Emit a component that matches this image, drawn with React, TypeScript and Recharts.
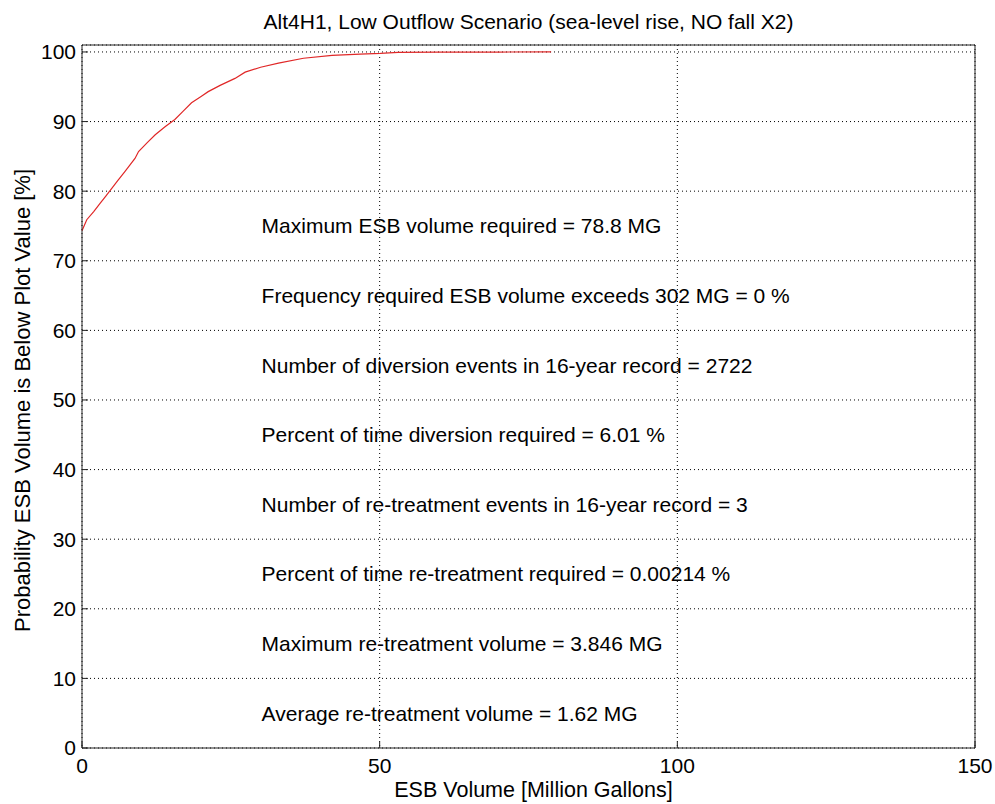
import { LineChart, Line, XAxis, YAxis, CartesianGrid, ReferenceDot, Label } from "recharts";

// ESB volume (MG) vs cumulative probability (%)
const volume = [
  0, 0.8, 2, 3, 4, 5, 6, 7.2, 8.9, 9.5, 11, 12.3, 14, 15.6, 17, 18.4, 20, 21.2,
  23.2, 25.7, 27.4, 30, 33, 37.2, 42, 46.7, 50.1, 53.1, 60, 70, 78.8,
];
const probability = [
  74.3, 75.9, 77.1, 78.2, 79.3, 80.4, 81.5, 82.8, 84.7, 85.7, 87.0, 88.1, 89.3,
  90.3, 91.5, 92.7, 93.6, 94.3, 95.2, 96.2, 97.1, 97.8, 98.4, 99.1, 99.5, 99.7,
  99.8, 99.95, 99.97, 99.99, 100,
];

const xTicks = [0, 50, 100, 150];
const yTicks = [0, 10, 20, 30, 40, 50, 60, 70, 80, 90, 100];

const notes = [
  "Maximum ESB volume required = 78.8 MG",
  "Frequency required ESB volume exceeds 302 MG = 0 %",
  "Number of diversion events in 16-year record = 2722",
  "Percent of time diversion required = 6.01 %",
  "Number of re-treatment events in 16-year record = 3",
  "Percent of time re-treatment required = 0.00214 %",
  "Maximum re-treatment volume = 3.846 MG",
  "Average re-treatment volume = 1.62 MG",
];
const noteY = [75, 65, 55, 45, 35, 25, 15, 5];
const noteX = 30;

const data = volume.map((v, i) => ({ volume: v, probability: probability[i] }));

const FONT = "'Liberation Sans', Arial, sans-serif";
const FS = 21;
const AXIS = "#222";

function Title(props: any) {
  const { x, y, width } = props.viewBox;
  return (
    <text
      x={x + width / 2}
      y={y - 23}
      textAnchor="middle"
      dominantBaseline="central"
      fontFamily={FONT}
      fontSize={FS}
      fill="#000"
    >
      Alt4H1, Low Outflow Scenario (sea-level rise, NO fall X2)
    </text>
  );
}

function YTitle(props: any) {
  const { x, y, height } = props.viewBox;
  const cx = x;
  const cy = y + height / 2 + 4;
  return (
    <text
      x={cx}
      y={cy}
      transform={`rotate(-90 ${cx} ${cy})`}
      textAnchor="middle"
      dominantBaseline="central"
      fontFamily={FONT}
      fontSize={22}
      fill="#000"
    >
      Probability ESB Volume is Below Plot Value [%]
    </text>
  );
}

function XTitle(props: any) {
  const { x, y, width, height } = props.viewBox;
  return (
    <text
      x={x + width / 2 + 5}
      y={y + height + 12}
      textAnchor="middle"
      dominantBaseline="central"
      fontFamily={FONT}
      fontSize={21.5}
      fill="#000"
    >
      ESB Volume [Million Gallons]
    </text>
  );
}

export default function App() {
  const tickStyle = { fontFamily: FONT, fontSize: FS, fill: "#000" };
  return (
    <div style={{ position: "absolute", left: 0, top: 0, width: 995, height: 804, background: "#fff" }}>
      <LineChart width={995} height={804} data={data} margin={{ top: 44, right: 19, bottom: 26, left: 22 }}>
        <CartesianGrid stroke="#000" strokeDasharray="1 3" />
        <XAxis
          dataKey="volume"
          type="number"
          domain={[0, 150]}
          ticks={xTicks}
          height={30}
          tickSize={-6}
          tickMargin={16}
          tick={tickStyle}
          stroke={AXIS}
          interval={0}
        >
          <Label content={<XTitle />} />
        </XAxis>
        <XAxis
          xAxisId="top"
          orientation="top"
          type="number"
          domain={[0, 150]}
          ticks={xTicks}
          height={1}
          tickSize={-6}
          tick={false}
          stroke={AXIS}
          allowDataOverflow
        >
          <Label content={<Title />} />
        </XAxis>
        <YAxis
          type="number"
          domain={[0, 101]}
          ticks={yTicks}
          width={60}
          tickSize={-6}
          tickMargin={12}
          tick={tickStyle}
          stroke={AXIS}
          interval={0}
          allowDataOverflow
        >
          <Label content={<YTitle />} />
        </YAxis>
        <YAxis
          yAxisId="right"
          orientation="right"
          type="number"
          domain={[0, 101]}
          ticks={yTicks}
          width={1}
          tickSize={-6}
          tick={false}
          stroke={AXIS}
          allowDataOverflow
        />
        <Line
          type="linear"
          dataKey="probability"
          stroke="#e02828"
          strokeWidth={1.2}
          dot={false}
          isAnimationActive={false}
        />
        {notes.map((text, i) => (
          <ReferenceDot
            key={text}
            x={noteX}
            y={noteY[i]}
            r={1}
            fill="none"
            stroke="none"
            label={{
              value: text,
              position: "right",
              offset: 0,
              fontFamily: FONT,
              fontSize: FS,
              fill: "#000",
            }}
          />
        ))}
      </LineChart>
    </div>
  );
}
